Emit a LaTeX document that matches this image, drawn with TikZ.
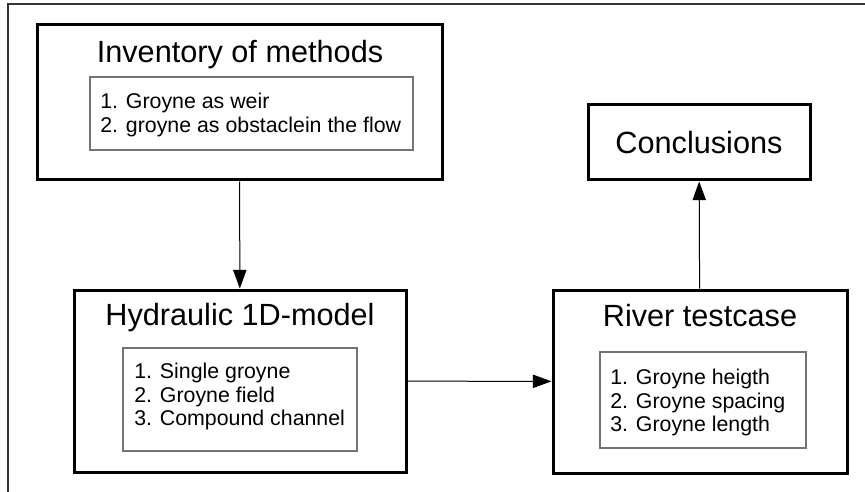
\documentclass[tikz,border=0pt]{standalone}
\usepackage{fontspec}
\setmainfont{Liberation Sans}
\usetikzlibrary{arrows.meta,positioning}
\tikzset{
  stagebox/.style={rectangle, draw=black, line width=2.25pt, inner sep=0pt,
                   font=\fontsize{23}{27}\selectfont},
  listbox/.style={rectangle, draw=black!55, line width=0.8pt, inner sep=0pt},
  listtext/.style={inner sep=0pt, align=left, anchor=north west,
                   font=\fontsize{16}{17.6}\selectfont},
  titletext/.style={inner sep=0pt, anchor=base, font=\fontsize{23}{27}\selectfont},
  arrow/.style={-{Triangle[length=14pt, width=10pt]}, line width=0.75pt},
}

\begin{document}
\begin{tikzpicture}[x=0.75pt, y=-0.75pt]
    \useasboundingbox (0,0) rectangle (865,492);

    % frame (only top and left edge inside the page)
    \draw[line width=1.2pt, black!80] (8,492) -- (8,4) -- (865,4);

    % Top row: inventory and conclusions
    \node[stagebox, minimum width=303.75pt, minimum height=116.25pt] (inventory) at (239.5,102.5) {};
    \node[titletext] (inventorytitle) at (240,63) {Inventory of methods};
    \node[listbox, minimum width=242.25pt, minimum height=54.75pt] (inventorylist) at (251.5,113.5) {};
    \node[listtext] (inventoryitems) at (100,93) {1. Groyne as weir\\2. groyne as obstaclein the flow};

    \node[stagebox, minimum width=166.5pt, minimum height=56.25pt] (conclusions) at (699,142.5) {Conclusions};

    % Bottom row: 1D-model and testcase
    \node[stagebox, minimum width=249pt, minimum height=136.5pt] (hydraulic) at (240,381) {};
    \node[titletext] (hydraulictitle) at (240,325) {Hydraulic 1D-model};
    \node[listbox, minimum width=175.5pt, minimum height=77.25pt] (hydrauliclist) at (240,399.5) {};
    \node[listtext] (hydraulicitems) at (134,363) {1. Single groyne\\2. Groyne field\\3. Compound channel};

    \node[stagebox, minimum width=220.5pt, minimum height=137.25pt] (river) at (700,381.5) {};
    \node[titletext] (rivertitle) at (700,326) {River testcase};
    \node[listbox, minimum width=154.5pt, minimum height=72pt] (riverlist) at (703,400) {};
    \node[listtext] (riveritems) at (610,369) {1. Groyne heigth\\2. Groyne spacing\\3. Groyne length};

    % Arrows
    \draw[arrow] (inventory) -- (hydraulic);
    \draw[arrow] (hydraulic) -- (river);
    \draw[arrow] (river)     -- (conclusions);

\end{tikzpicture}
\end{document}
